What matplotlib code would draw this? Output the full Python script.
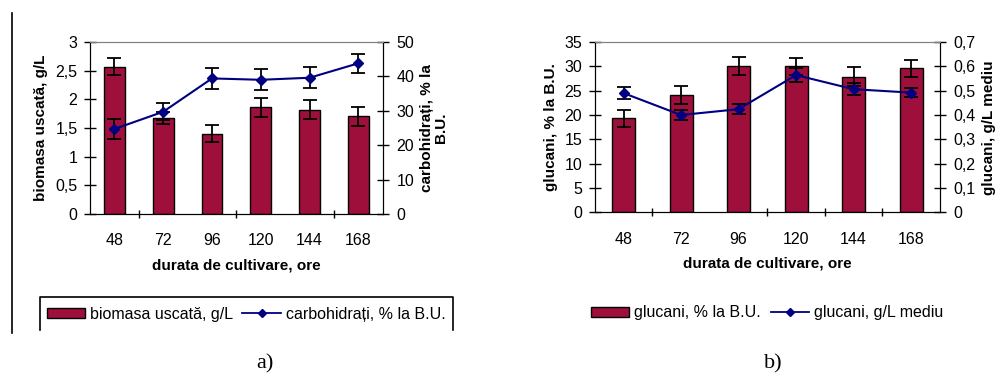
import numpy as np
import matplotlib.pyplot as plt
from matplotlib.ticker import FuncFormatter
from matplotlib.patches import Patch
from matplotlib.lines import Line2D

plt.rcParams['font.family'] = ['Liberation Sans', 'DejaVu Sans']

ore = ["48", "72", "96", "120", "144", "168"]

# a) biomasa si carbohidrati
biomasa = [2.57, 1.67, 1.40, 1.86, 1.82, 1.70]
biomasa_err = [0.15, 0.10, 0.15, 0.17, 0.17, 0.16]
carbohidrati = [24.7, 29.7, 39.4, 39.0, 39.6, 43.8]
carbohidrati_err = [3.0, 2.5, 3.0, 3.0, 3.0, 2.7]

# b) glucani
glucani_proc = [19.3, 24.1, 30.1, 30.0, 27.9, 29.6]
glucani_proc_err = [1.8, 1.9, 1.8, 1.8, 1.9, 1.7]
glucani_gl = [0.490, 0.400, 0.424, 0.564, 0.506, 0.492]
glucani_gl_err = [0.025, 0.020, 0.020, 0.030, 0.025, 0.020]

BAR = "#9e0f3c"
LINE = "#000080"


def comma(v, pos):
    s = ("%g" % round(v, 2))
    return s.replace(".", ",")


def draw_panel(ax, bars, bars_err, line, line_err, ylim_l, step_l, ylim_r, step_r,
               ylabel_l, ylabel_r, width, boundary_ticks):
    x = np.arange(len(ore))
    ax.bar(x, bars, width=width, color=BAR, edgecolor="black", linewidth=1.0, zorder=2)
    ax.errorbar(x, bars, yerr=bars_err, fmt="none", ecolor="black", elinewidth=1.3,
                capsize=5, capthick=1.3, zorder=3)
    ax.set_xlim(-0.5, len(ore) - 0.5)
    ax.set_ylim(*ylim_l)
    ax.set_yticks(np.arange(ylim_l[0], ylim_l[1] + step_l / 2, step_l))
    ax.yaxis.set_major_formatter(FuncFormatter(comma))
    ax.set_xticks(x)
    ax.set_xticklabels(ore)
    ax.set_xticks(boundary_ticks, minor=True)
    ax.tick_params(axis="x", which="major", length=0, pad=14, labelsize=11.5)
    ax.tick_params(axis="x", which="minor", length=6, direction="inout", width=1)
    ax.tick_params(axis="y", direction="inout", length=8, width=1, labelsize=11.5, pad=5)
    ax.set_xlabel("durata de cultivare, ore", fontsize=11, fontweight="bold", labelpad=7)
    ax.set_ylabel(ylabel_l, fontsize=11, fontweight="bold", labelpad=5)
    for s in ["left", "bottom"]:
        ax.spines[s].set_color("black")
    ax.spines["top"].set_color("#808080")

    ax2 = ax.twinx()
    ax2.errorbar(x, line, yerr=line_err, fmt="none", ecolor="black", elinewidth=1.3,
                 capsize=5, capthick=1.3, zorder=3)
    ax2.plot(x, line, color=LINE, linewidth=1.5, marker="D", markersize=5.5, zorder=4)
    ax2.set_ylim(*ylim_r)
    ax2.set_yticks(np.arange(ylim_r[0], ylim_r[1] + step_r / 2, step_r))
    ax2.yaxis.set_major_formatter(FuncFormatter(comma))
    ax2.tick_params(axis="y", direction="inout", length=8, width=1, labelsize=11.5, pad=6)
    ax2.set_ylabel(ylabel_r, fontsize=11, fontweight="bold", linespacing=1.0)
    ax2.spines["top"].set_color("#808080")
    return ax2


fig = plt.figure(figsize=(10.03, 3.78), dpi=100)

ax_a = fig.add_axes([0.0897, 0.434, 0.292, 0.455])
draw_panel(ax_a, biomasa, biomasa_err, carbohidrati, carbohidrati_err,
           (0, 3), 0.5, (0, 50), 10,
           "biomasa uscată, g/L", "carbohidrați, % la\nB.U.", 0.43, [0.5, 2.5, 4.5])

ax_b = fig.add_axes([0.593, 0.438, 0.344, 0.451])
draw_panel(ax_b, glucani_proc, glucani_proc_err, glucani_gl, glucani_gl_err,
           (0, 35), 5, (0, 0.7), 0.1,
           "glucani, % la B.U.", "glucani, g/L mediu", 0.40, [0.5, 2.5, 3.5, 4.5])

# legends
bar_h = Patch(facecolor=BAR, edgecolor="black")
line_h = Line2D([], [], color=LINE, linewidth=1.3, marker="D", markersize=4)
leg_kw = dict(loc="center", ncol=2, frameon=False, fontsize=11.5, handlelength=2.4,
              handleheight=0.6, handletextpad=0.3, columnspacing=0.6)
fig.legend([bar_h, line_h], ["biomasa uscată, g/L", "carbohidrați, % la B.U."],
           bbox_to_anchor=(246 / 1003, 1 - 314 / 378), **leg_kw)
fig.legend([bar_h, line_h], ["glucani, % la B.U.", "glucani, g/L mediu"],
           bbox_to_anchor=(767 / 1003, 1 - 313 / 378), **leg_kw)

# legend box of panel a (bottom edge cut off in original) and left rule
W, H = 1003, 378
fig.add_artist(Line2D([40 / W, 40 / W, 453 / W, 453 / W],
                      [1 - 330 / H, 1 - 297 / H, 1 - 297 / H, 1 - 330 / H],
                      color="black", linewidth=1.2))
fig.add_artist(Line2D([12 / W, 12 / W], [1 - 13 / H, 1 - 333 / H],
                      color="black", linewidth=1.2))

fig.text(265 / W, 1 - 364 / H, "a)", ha="center", va="center", fontsize=16,
         family="Liberation Serif")
fig.text(773 / W, 1 - 364 / H, "b)", ha="center", va="center", fontsize=16,
         family="Liberation Serif")

fig.savefig("out.png", dpi=100)
